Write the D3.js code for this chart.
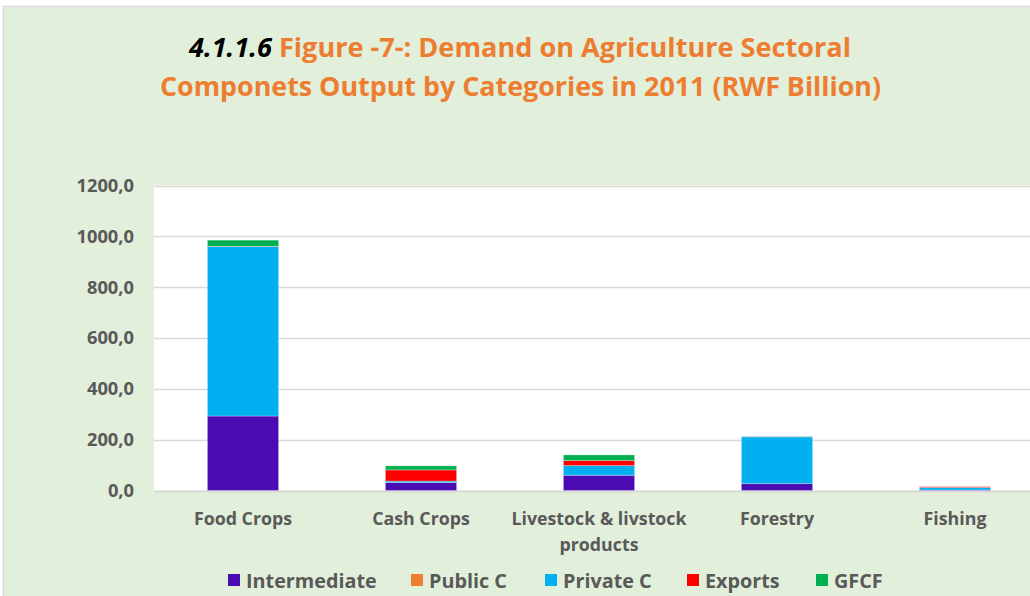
<!DOCTYPE html>
<html><head><meta charset="utf-8">
<script src="https://cdn.jsdelivr.net/npm/d3@7"></script>
<style>html,body{margin:0;padding:0;background:#fff;overflow:hidden}</style>
</head><body>
<svg id="c" width="1030" height="596"></svg>
<script>
const categories = ["Food Crops", "Cash Crops", "Livestock & livstock products", "Forestry", "Fishing"];
const seriesNames = ["Intermediate", "Public C", "Private C", "Exports", "GFCF"];
const intermediate = [293, 31, 60, 27, 2];
const publicC = [0, 0, 0, 0, 0];
const privateC = [667, 6, 38, 184, 10];
const exportsV = [1, 44, 20, 1, 3];
const gfcf = [24, 16, 22, 1, 0];
const yTicks = [0, 200, 400, 600, 800, 1000, 1200];
const colors = ["#4A0CB2", "#ED7D31", "#00B0F0", "#FF0000", "#00B050"];

const rows = categories.map((c, i) => ({
  cat: c, "Intermediate": intermediate[i], "Public C": publicC[i],
  "Private C": privateC[i], "Exports": exportsV[i], "GFCF": gfcf[i]
}));

const FONT = "'Open Sans', Lato, sans-serif";
const svg = d3.select("#c");
// chart frame
svg.append("rect").attr("x", 3.5).attr("y", 6.5).attr("width", 1040).attr("height", 600)
  .attr("fill", "#E2EFDA").attr("stroke", "#D9D9D9").attr("stroke-width", 1.5);

const plot = {left: 154, top: 185.5, bottom: 490.5, band: 178};
const x = d3.scaleBand().domain(categories).range([plot.left, plot.left + plot.band * categories.length]).paddingInner(0.6).paddingOuter(0.3);
const y = d3.scaleLinear().domain([0, 1200]).range([plot.bottom, plot.top]);

svg.append("rect").attr("x", plot.left).attr("y", plot.top).attr("width", 1030 - plot.left + 20)
  .attr("height", plot.bottom - plot.top).attr("fill", "#fff");

// gridlines
svg.append("g").selectAll("line").data(yTicks).join("line")
  .attr("x1", plot.left).attr("x2", 1050)
  .attr("y1", d => Math.round(y(d)) + 0.5).attr("y2", d => Math.round(y(d)) + 0.5)
  .attr("stroke", "#D9D9D9").attr("stroke-width", d => d === 0 ? 2 : 1.5);

// y axis labels
const fmt = d => d3.format(".1f")(d).replace(".", ",");
const yAxis = d3.axisLeft(y).tickValues(yTicks).tickFormat(fmt).tickSize(0).tickPadding(20);
const ya = svg.append("g").attr("transform", `translate(${plot.left},0)`).call(yAxis);
ya.select(".domain").remove();
ya.selectAll("text").attr("font-family", FONT).attr("font-weight", "bold")
  .attr("font-size", 18.3).attr("fill", "#595959");

// stacked bars
const stack = d3.stack().keys(seriesNames)(rows);
svg.append("g").selectAll("g").data(stack).join("g")
  .attr("fill", (d, i) => colors[i])
  .selectAll("rect").data(d => d).join("rect")
  .attr("x", d => x(d.data.cat))
  .attr("width", x.bandwidth())
  .attr("y", d => y(d[1]))
  .attr("height", d => Math.max(0, y(d[0]) - y(d[1])))
  .attr("stroke", "rgba(255,255,255,0.35)").attr("stroke-width", 0.8);

// x labels
const xl = svg.append("g");
const wrapLines = {"Livestock & livstock products": ["Livestock & livstock", "products"]};
categories.forEach(c => {
  const lines = wrapLines[c] || [c];
  const t = xl.append("text").attr("x", x(c) + x.bandwidth() / 2).attr("y", 525)
    .attr("text-anchor", "middle").attr("font-family", FONT)
    .attr("font-weight", "bold").attr("font-size", 17.8).attr("fill", "#595959");
  lines.forEach((l, k) => t.append("tspan").attr("x", x(c) + x.bandwidth() / 2).attr("dy", k ? 25.5 : 0).text(l));
});

// title
const title = svg.append("g").attr("font-family", FONT).attr("font-weight", "bold");
const t1 = title.append("text").attr("x", 520).attr("y", 57).attr("text-anchor", "middle").attr("font-size", 27)
  .attr("textLength", 662).attr("lengthAdjust", "spacingAndGlyphs");
t1.append("tspan").attr("fill", "#000").attr("font-style", "italic").text("4.1.1.6 ");
t1.append("tspan").attr("fill", "#ED7D31").text("Figure -7-: Demand on Agriculture Sectoral");
title.append("text").attr("x", 520.5).attr("y", 96).attr("text-anchor", "middle").attr("font-size", 27)
  .attr("fill", "#ED7D31").attr("textLength", 721).attr("lengthAdjust", "spacingAndGlyphs")
  .text("Componets Output by Categories in 2011 (RWF Billion)");

// legend
const legX = [228, 411, 545, 687, 816];
const leg = svg.append("g").selectAll("g").data(seriesNames).join("g")
  .attr("transform", (d, i) => `translate(${legX[i]},574)`);
leg.append("rect").attr("width", 12).attr("height", 12).attr("fill", (d, i) => colors[i]);
leg.append("text").attr("x", 18).attr("y", 13.5).text(d => d)
  .attr("font-family", FONT).attr("font-weight", "bold")
  .attr("font-size", 19.8).attr("fill", "#595959");
</script>
</body></html>
